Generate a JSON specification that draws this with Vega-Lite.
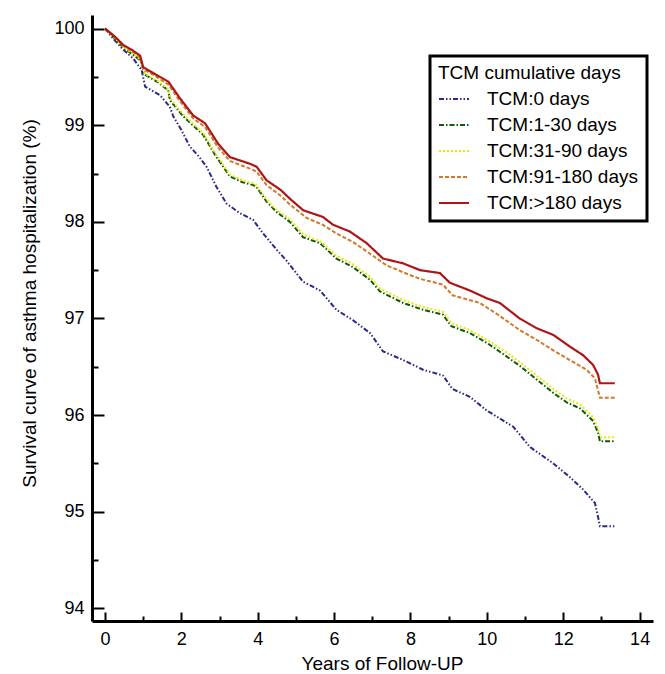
{
  "$schema": "https://vega.github.io/schema/vega-lite/v6.json",
  "width": 561,
  "height": 606,
  "autosize": "none",
  "padding": {"left": 92, "top": 15, "right": 12, "bottom": 53},
  "background": "white",
  "config": {
    "view": {"stroke": null},
    "font": "Liberation Sans",
    "axis": {"domainColor": "black", "domainWidth": 3, "tickColor": "black", "tickWidth": 2, "grid": false, "labelColor": "black", "titleColor": "black", "labelFont": "Liberation Sans", "titleFont": "Liberation Sans", "labelFontSize": 18, "titleFontSize": 19, "titleFontWeight": "normal"},
    "legend": {"strokeColor": "black", "strokeWidth": 3, "padding": 8, "fillColor": "white"}
  },
  "data": {"values": [
    {"g":"TCM:0 days","t":0,"s":100},{"g":"TCM:0 days","t":0.25,"s":99.88},{"g":"TCM:0 days","t":0.48,"s":99.78},{"g":"TCM:0 days","t":0.74,"s":99.69},{"g":"TCM:0 days","t":0.96,"s":99.57},{"g":"TCM:0 days","t":1.05,"s":99.4},{"g":"TCM:0 days","t":1.44,"s":99.31},{"g":"TCM:0 days","t":1.7,"s":99.19},{"g":"TCM:0 days","t":1.79,"s":99.09},{"g":"TCM:0 days","t":2.0,"s":98.95},{"g":"TCM:0 days","t":2.22,"s":98.78},{"g":"TCM:0 days","t":2.45,"s":98.68},{"g":"TCM:0 days","t":2.66,"s":98.57},{"g":"TCM:0 days","t":2.92,"s":98.36},{"g":"TCM:0 days","t":3.18,"s":98.19},{"g":"TCM:0 days","t":3.53,"s":98.09},{"g":"TCM:0 days","t":3.88,"s":98.02},{"g":"TCM:0 days","t":4.14,"s":97.88},{"g":"TCM:0 days","t":4.5,"s":97.71},{"g":"TCM:0 days","t":4.75,"s":97.6},{"g":"TCM:0 days","t":5.19,"s":97.38},{"g":"TCM:0 days","t":5.63,"s":97.29},{"g":"TCM:0 days","t":6.06,"s":97.09},{"g":"TCM:0 days","t":6.5,"s":96.98},{"g":"TCM:0 days","t":6.94,"s":96.85},{"g":"TCM:0 days","t":7.28,"s":96.66},{"g":"TCM:0 days","t":7.81,"s":96.57},{"g":"TCM:0 days","t":8.33,"s":96.47},{"g":"TCM:0 days","t":8.85,"s":96.41},{"g":"TCM:0 days","t":9.1,"s":96.27},{"g":"TCM:0 days","t":9.55,"s":96.19},{"g":"TCM:0 days","t":9.99,"s":96.05},{"g":"TCM:0 days","t":10.69,"s":95.88},{"g":"TCM:0 days","t":11.13,"s":95.67},{"g":"TCM:0 days","t":11.74,"s":95.5},{"g":"TCM:0 days","t":12.17,"s":95.36},{"g":"TCM:0 days","t":12.52,"s":95.23},{"g":"TCM:0 days","t":12.83,"s":95.09},{"g":"TCM:0 days","t":12.91,"s":94.95},{"g":"TCM:0 days","t":12.96,"s":94.85},{"g":"TCM:0 days","t":13.35,"s":94.85},

    {"g":"TCM:1-30 days","t":0,"s":100},{"g":"TCM:1-30 days","t":0.25,"s":99.9},{"g":"TCM:1-30 days","t":0.48,"s":99.8},{"g":"TCM:1-30 days","t":0.7,"s":99.74},{"g":"TCM:1-30 days","t":0.92,"s":99.67},{"g":"TCM:1-30 days","t":1.05,"s":99.52},{"g":"TCM:1-30 days","t":1.4,"s":99.44},{"g":"TCM:1-30 days","t":1.66,"s":99.36},{"g":"TCM:1-30 days","t":1.7,"s":99.26},{"g":"TCM:1-30 days","t":2.05,"s":99.09},{"g":"TCM:1-30 days","t":2.57,"s":98.9},{"g":"TCM:1-30 days","t":2.92,"s":98.67},{"g":"TCM:1-30 days","t":3.27,"s":98.47},{"g":"TCM:1-30 days","t":3.6,"s":98.41},{"g":"TCM:1-30 days","t":3.88,"s":98.38},{"g":"TCM:1-30 days","t":3.97,"s":98.36},{"g":"TCM:1-30 days","t":4.23,"s":98.21},{"g":"TCM:1-30 days","t":4.5,"s":98.1},{"g":"TCM:1-30 days","t":4.84,"s":98.0},{"g":"TCM:1-30 days","t":5.19,"s":97.84},{"g":"TCM:1-30 days","t":5.63,"s":97.78},{"g":"TCM:1-30 days","t":6.06,"s":97.62},{"g":"TCM:1-30 days","t":6.5,"s":97.53},{"g":"TCM:1-30 days","t":6.94,"s":97.4},{"g":"TCM:1-30 days","t":7.2,"s":97.28},{"g":"TCM:1-30 days","t":7.81,"s":97.16},{"g":"TCM:1-30 days","t":8.33,"s":97.09},{"g":"TCM:1-30 days","t":8.85,"s":97.04},{"g":"TCM:1-30 days","t":9.07,"s":96.92},{"g":"TCM:1-30 days","t":9.55,"s":96.85},{"g":"TCM:1-30 days","t":9.99,"s":96.75},{"g":"TCM:1-30 days","t":10.4,"s":96.64},{"g":"TCM:1-30 days","t":10.86,"s":96.51},{"g":"TCM:1-30 days","t":11.3,"s":96.37},{"g":"TCM:1-30 days","t":11.74,"s":96.23},{"g":"TCM:1-30 days","t":12.1,"s":96.13},{"g":"TCM:1-30 days","t":12.44,"s":96.07},{"g":"TCM:1-30 days","t":12.78,"s":95.94},{"g":"TCM:1-30 days","t":12.91,"s":95.82},{"g":"TCM:1-30 days","t":12.96,"s":95.73},{"g":"TCM:1-30 days","t":13.35,"s":95.73},

    {"g":"TCM:31-90 days","t":0,"s":100},{"g":"TCM:31-90 days","t":0.25,"s":99.91},{"g":"TCM:31-90 days","t":0.48,"s":99.81},{"g":"TCM:31-90 days","t":0.7,"s":99.75},{"g":"TCM:31-90 days","t":0.92,"s":99.68},{"g":"TCM:31-90 days","t":1.05,"s":99.53},{"g":"TCM:31-90 days","t":1.4,"s":99.45},{"g":"TCM:31-90 days","t":1.66,"s":99.37},{"g":"TCM:31-90 days","t":1.7,"s":99.28},{"g":"TCM:31-90 days","t":2.05,"s":99.11},{"g":"TCM:31-90 days","t":2.57,"s":98.92},{"g":"TCM:31-90 days","t":2.92,"s":98.69},{"g":"TCM:31-90 days","t":3.27,"s":98.49},{"g":"TCM:31-90 days","t":3.6,"s":98.43},{"g":"TCM:31-90 days","t":3.88,"s":98.4},{"g":"TCM:31-90 days","t":3.97,"s":98.38},{"g":"TCM:31-90 days","t":4.23,"s":98.23},{"g":"TCM:31-90 days","t":4.5,"s":98.12},{"g":"TCM:31-90 days","t":4.84,"s":98.03},{"g":"TCM:31-90 days","t":5.19,"s":97.87},{"g":"TCM:31-90 days","t":5.63,"s":97.8},{"g":"TCM:31-90 days","t":6.06,"s":97.65},{"g":"TCM:31-90 days","t":6.5,"s":97.56},{"g":"TCM:31-90 days","t":6.94,"s":97.43},{"g":"TCM:31-90 days","t":7.2,"s":97.31},{"g":"TCM:31-90 days","t":7.81,"s":97.19},{"g":"TCM:31-90 days","t":8.33,"s":97.12},{"g":"TCM:31-90 days","t":8.85,"s":97.07},{"g":"TCM:31-90 days","t":9.07,"s":96.95},{"g":"TCM:31-90 days","t":9.55,"s":96.88},{"g":"TCM:31-90 days","t":9.99,"s":96.78},{"g":"TCM:31-90 days","t":10.4,"s":96.68},{"g":"TCM:31-90 days","t":10.86,"s":96.55},{"g":"TCM:31-90 days","t":11.3,"s":96.41},{"g":"TCM:31-90 days","t":11.74,"s":96.27},{"g":"TCM:31-90 days","t":12.1,"s":96.17},{"g":"TCM:31-90 days","t":12.44,"s":96.11},{"g":"TCM:31-90 days","t":12.78,"s":95.98},{"g":"TCM:31-90 days","t":12.91,"s":95.86},{"g":"TCM:31-90 days","t":12.96,"s":95.77},{"g":"TCM:31-90 days","t":13.35,"s":95.77},

    {"g":"TCM:91-180 days","t":0,"s":100},{"g":"TCM:91-180 days","t":0.25,"s":99.91},{"g":"TCM:91-180 days","t":0.48,"s":99.82},{"g":"TCM:91-180 days","t":0.7,"s":99.77},{"g":"TCM:91-180 days","t":0.92,"s":99.7},{"g":"TCM:91-180 days","t":1.0,"s":99.58},{"g":"TCM:91-180 days","t":1.35,"s":99.5},{"g":"TCM:91-180 days","t":1.66,"s":99.42},{"g":"TCM:91-180 days","t":1.96,"s":99.25},{"g":"TCM:91-180 days","t":2.31,"s":99.07},{"g":"TCM:91-180 days","t":2.62,"s":98.98},{"g":"TCM:91-180 days","t":2.96,"s":98.77},{"g":"TCM:91-180 days","t":3.27,"s":98.63},{"g":"TCM:91-180 days","t":3.8,"s":98.55},{"g":"TCM:91-180 days","t":3.97,"s":98.52},{"g":"TCM:91-180 days","t":4.23,"s":98.38},{"g":"TCM:91-180 days","t":4.6,"s":98.27},{"g":"TCM:91-180 days","t":4.84,"s":98.18},{"g":"TCM:91-180 days","t":5.28,"s":98.04},{"g":"TCM:91-180 days","t":5.7,"s":97.97},{"g":"TCM:91-180 days","t":6.06,"s":97.88},{"g":"TCM:91-180 days","t":6.5,"s":97.79},{"g":"TCM:91-180 days","t":6.94,"s":97.67},{"g":"TCM:91-180 days","t":7.37,"s":97.55},{"g":"TCM:91-180 days","t":7.98,"s":97.45},{"g":"TCM:91-180 days","t":8.25,"s":97.41},{"g":"TCM:91-180 days","t":8.85,"s":97.35},{"g":"TCM:91-180 days","t":9.1,"s":97.24},{"g":"TCM:91-180 days","t":9.82,"s":97.16},{"g":"TCM:91-180 days","t":10.25,"s":97.05},{"g":"TCM:91-180 days","t":10.86,"s":96.88},{"g":"TCM:91-180 days","t":11.3,"s":96.78},{"g":"TCM:91-180 days","t":11.74,"s":96.67},{"g":"TCM:91-180 days","t":12.17,"s":96.57},{"g":"TCM:91-180 days","t":12.61,"s":96.47},{"g":"TCM:91-180 days","t":12.83,"s":96.38},{"g":"TCM:91-180 days","t":12.96,"s":96.18},{"g":"TCM:91-180 days","t":13.35,"s":96.18},

    {"g":"TCM:>180 days","t":0,"s":100},{"g":"TCM:>180 days","t":0.25,"s":99.92},{"g":"TCM:>180 days","t":0.48,"s":99.83},{"g":"TCM:>180 days","t":0.7,"s":99.78},{"g":"TCM:>180 days","t":0.92,"s":99.72},{"g":"TCM:>180 days","t":1.0,"s":99.6},{"g":"TCM:>180 days","t":1.35,"s":99.52},{"g":"TCM:>180 days","t":1.66,"s":99.45},{"g":"TCM:>180 days","t":1.96,"s":99.28},{"g":"TCM:>180 days","t":2.31,"s":99.1},{"g":"TCM:>180 days","t":2.62,"s":99.02},{"g":"TCM:>180 days","t":2.96,"s":98.81},{"g":"TCM:>180 days","t":3.27,"s":98.67},{"g":"TCM:>180 days","t":3.8,"s":98.6},{"g":"TCM:>180 days","t":3.97,"s":98.57},{"g":"TCM:>180 days","t":4.23,"s":98.43},{"g":"TCM:>180 days","t":4.6,"s":98.33},{"g":"TCM:>180 days","t":4.84,"s":98.24},{"g":"TCM:>180 days","t":5.19,"s":98.12},{"g":"TCM:>180 days","t":5.71,"s":98.05},{"g":"TCM:>180 days","t":5.97,"s":97.97},{"g":"TCM:>180 days","t":6.41,"s":97.9},{"g":"TCM:>180 days","t":6.85,"s":97.78},{"g":"TCM:>180 days","t":7.28,"s":97.62},{"g":"TCM:>180 days","t":7.81,"s":97.57},{"g":"TCM:>180 days","t":8.25,"s":97.5},{"g":"TCM:>180 days","t":8.77,"s":97.47},{"g":"TCM:>180 days","t":9.03,"s":97.37},{"g":"TCM:>180 days","t":9.55,"s":97.29},{"g":"TCM:>180 days","t":9.99,"s":97.21},{"g":"TCM:>180 days","t":10.34,"s":97.16},{"g":"TCM:>180 days","t":10.86,"s":97.0},{"g":"TCM:>180 days","t":11.3,"s":96.9},{"g":"TCM:>180 days","t":11.74,"s":96.83},{"g":"TCM:>180 days","t":12.17,"s":96.71},{"g":"TCM:>180 days","t":12.52,"s":96.62},{"g":"TCM:>180 days","t":12.78,"s":96.52},{"g":"TCM:>180 days","t":12.91,"s":96.42},{"g":"TCM:>180 days","t":12.96,"s":96.33},{"g":"TCM:>180 days","t":13.35,"s":96.33}
  ]},
  "encoding": {
    "color": {
      "field": "g", "type": "nominal",
      "scale": {"domain": ["TCM:0 days","TCM:1-30 days","TCM:31-90 days","TCM:91-180 days","TCM:>180 days"], "range": ["#2a2a8c","#0d5a12","#e8e800","#d07a2a","#b01515"]},
      "legend": {
        "title": "TCM cumulative days",
        "orient": "none",
        "legendX": 338,
        "legendY": 41,
        "titleFontSize": 19,
        "titleFontWeight": "normal",
        "titleColor": "black",
        "titlePadding": 0,
        "titleLimit": 400,
        "labelFontSize": 19,
        "labelColor": "black",
        "labelLimit": 400,
        "symbolType": "stroke",
        "symbolSize": 900,
        "symbolStrokeWidth": 2,
        "labelOffset": 17,
        "rowPadding": -9
      }
    },
    "strokeDash": {
      "field": "g", "type": "nominal",
      "scale": {"domain": ["TCM:0 days","TCM:1-30 days","TCM:31-90 days","TCM:91-180 days","TCM:>180 days"], "range": [[5,2,1.5,2,1.5,2],[5,2,1.5,2],[2,2],[4,2],[1,0]]},
      "legend": null
    }
  },
  "layer": [
    {
      "transform": [{"filter": "datum.g !== 'TCM:>180 days'"}],
      "mark": {"type": "line", "strokeWidth": 2, "interpolate": "linear", "clip": true},
      "encoding": {
        "x": {
          "field": "t", "type": "quantitative",
          "scale": {"domain": [-0.34, 14.35], "nice": false, "zero": false},
          "axis": {
            "orient": "bottom",
            "title": "Years of Follow-UP",
            "values": [0,2,4,6,8,10,12,14],
            "format": "d",
            "tickSize": -9,
            "labelPadding": 18,
            "labelFlush": false,
            "titleX": 290,
            "titleY": 48,
            "titleBaseline": "alphabetic"
          }
        },
        "y": {
          "field": "s", "type": "quantitative",
          "scale": {"domain": [93.87, 100.14], "nice": false, "zero": false},
          "axis": {
            "orient": "left",
            "title": "Survival curve of asthma hospitalization (%)",
            "values": [94,95,96,97,98,99,100],
            "format": "d",
            "tickSize": -12,
            "labelPadding": 20,
            "labelFlush": false,
            "titleX": -63,
            "titleY": 288,
            "titleAngle": -90,
            "titleAlign": "center",
            "titleBaseline": "middle"
          }
        }
      }
    },
    {
      "transform": [{"filter": "datum.g === 'TCM:>180 days'"}],
      "mark": {"type": "line", "strokeWidth": 2.2, "interpolate": "linear", "clip": true},
      "encoding": {
        "x": {
          "field": "t", "type": "quantitative",
          "axis": {
            "orient": "bottom",
            "title": null,
            "values": [1,3,5,7,9,11,13],
            "labels": false,
            "domain": false,
            "tickSize": -5
          }
        },
        "y": {
          "field": "s", "type": "quantitative",
          "axis": {
            "orient": "left",
            "title": null,
            "values": [94.5,95.5,96.5,97.5,98.5,99.5],
            "labels": false,
            "domain": false,
            "tickSize": -6
          }
        }
      }
    }
  ],
  "resolve": {"axis": {"x": "independent", "y": "independent"}}
}
